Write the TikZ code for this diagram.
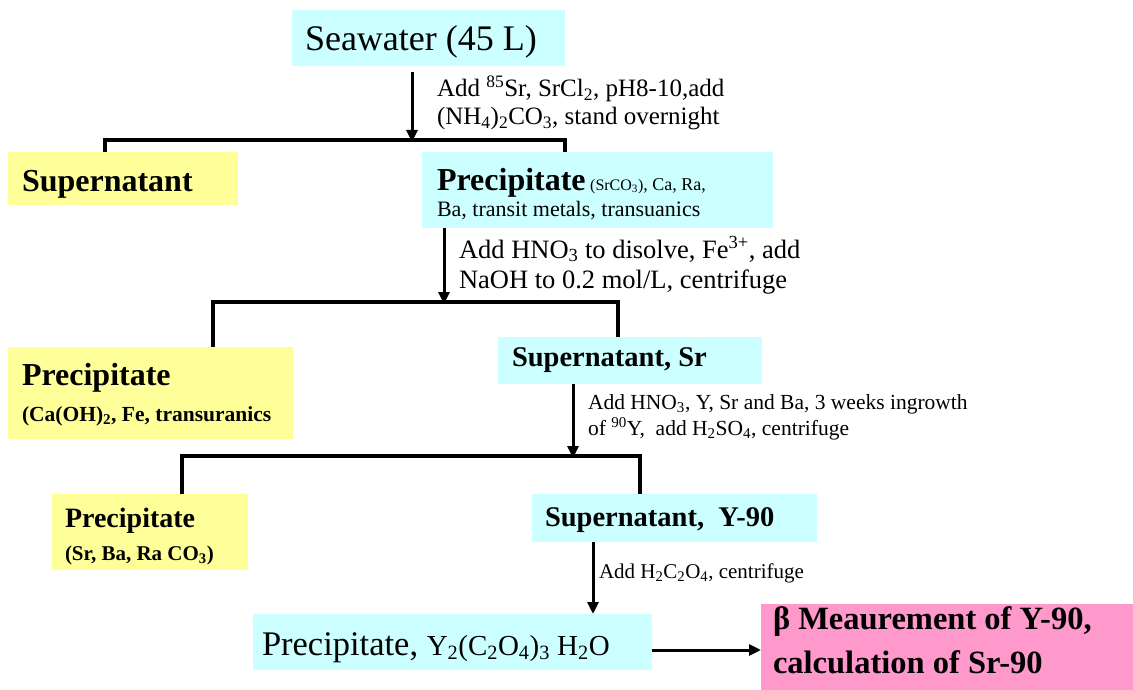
\documentclass[tikz,border=0pt]{standalone}
\usepackage{fontspec}
\setmainfont{Liberation Serif}
\usetikzlibrary{arrows.meta}

\definecolor{boxcyan}{HTML}{CCFFFF}
\definecolor{boxyellow}{HTML}{FFFF99}
\definecolor{boxpink}{HTML}{FF99CC}

\newcommand{\chsub}[1]{\textsubscript{#1}}
\newcommand{\chsup}[1]{\textsuperscript{#1}}
\newcommand{\fsz}[1]{\fontsize{#1}{1.15\dimexpr #1pt\relax}\selectfont}

\begin{document}
\begin{tikzpicture}[x=1pt,y=-1pt,
  box/.style={draw=none, anchor=north west, inner sep=0pt, outer sep=0pt},
  txt/.style={anchor=base west, inner sep=0pt, outer sep=0pt},
  flow/.style={line width=3pt, -{Triangle[length=12pt,width=11pt]}},
  fork/.style={line width=4pt, line join=miter}
]
\useasboundingbox (0,0) rectangle (1133,690);

% ---------- boxes ----------
\node[box, fill=boxcyan,   minimum width=273pt, minimum height=56pt] (sea)   at (292,10)  {};
\node[box, fill=boxyellow, minimum width=230pt, minimum height=53pt] (sup1)  at (8,152)   {};
\node[box, fill=boxcyan,   minimum width=351pt, minimum height=76pt] (prec1) at (422,152) {};
\node[box, fill=boxyellow, minimum width=285pt, minimum height=92pt] (prec2) at (8,347)   {};
\node[box, fill=boxcyan,   minimum width=264pt, minimum height=47pt] (sup2)  at (498,337) {};
\node[box, fill=boxyellow, minimum width=196pt, minimum height=76pt] (prec3) at (52,494)  {};
\node[box, fill=boxcyan,   minimum width=285pt, minimum height=48pt] (sup3)  at (532,494) {};
\node[box, fill=boxcyan,   minimum width=399pt, minimum height=56pt] (prec4) at (253,614) {};
\node[box, fill=boxpink,   minimum width=372pt, minimum height=86pt] (meas)  at (761,604) {};

% ---------- box texts ----------
\node[txt] (seaT) at (305,51) {\fsz{36}Seawater (45 L)};
\node[txt] (sup1T) at (22,191) {\fsz{32}\bfseries Supernatant};
\node[txt] (prec1Ta) at (437,190) {\fsz{32}\textbf{Precipitate}\fsz{18} {\fsz{16}(SrCO\chsub{3})}, Ca, Ra,};
\node[txt] (prec1Tb) at (437,216) {\fsz{22}Ba, transit metals, transuanics};
\node[txt] (prec2Ta) at (22,385) {\fsz{32}\bfseries Precipitate};
\node[txt] (prec2Tb) at (22,421) {\fsz{21.5}\bfseries (Ca(OH)\chsub{2}, Fe, transuranics};
\node[txt] (sup2T) at (512,366) {\fsz{28.5}\bfseries Supernatant, Sr};
\node[txt] (prec3Ta) at (65,527) {\fsz{28}\bfseries Precipitate};
\node[txt] (prec3Tb) at (65,560) {\fsz{21}\bfseries (Sr, Ba, Ra CO\chsub{3})};
\node[txt] (sup3T) at (545,526) {\fsz{28.5}\bfseries Supernatant,~ Y-90};
\node[txt] (prec4T) at (262,655) {\fsz{34.5}Precipitate, {\fsz{29}Y\chsub{2}(C\chsub{2}O\chsub{4})\chsub{3} H\chsub{2}O}};
\node[txt] (measTa) at (773,629) {\fsz{32.5}\bfseries β Meaurement of Y-90,};
\node[txt] (measTb) at (773,673) {\fsz{32.5}\bfseries calculation of Sr-90};

% ---------- step labels ----------
\node[txt] (l1a) at (437,97)  {\fsz{25}Add \chsup{85}Sr, SrCl\chsub{2}, pH8-10,add};
\node[txt] (l1b) at (437,125) {\fsz{25}(NH\chsub{4})\chsub{2}CO\chsub{3}, stand overnight};
\node[txt] (l2a) at (459,258) {\fsz{26.5}Add HNO\chsub{3} to disolve, Fe\chsup{3+}, add};
\node[txt] (l2b) at (459,288) {\fsz{26.5}NaOH to 0.2 mol/L, centrifuge};
\node[txt] (l3a) at (588,409) {\fsz{21.5}Add HNO\chsub{3}, Y, Sr and Ba, 3 weeks ingrowth};
\node[txt] (l3b) at (588,435) {\fsz{21.5}of \chsup{90}Y,~ add H\chsub{2}SO\chsub{4}, centrifuge};
\node[txt] (l4)  at (599,578) {\fsz{21}Add H\chsub{2}C\chsub{2}O\chsub{4}, centrifuge};

% ---------- fork points ----------
\coordinate (f1)  at (412,140);
\coordinate (f1l) at (105,140);
\coordinate (f1r) at (565,140);
\coordinate (f2)  at (444,302);
\coordinate (f2l) at (213,302);
\coordinate (f2r) at (618,302);
\coordinate (f3)  at (573,456);
\coordinate (f3l) at (182,456);
\coordinate (f3r) at (640,456);
\coordinate (s1)  at (412,72);

% ---------- forks ----------
\draw[fork] (sup1.north -| f1l) -- (f1l) -- (f1r) -- (prec1.north -| f1r);
\draw[fork] (prec2.north -| f2l) -- (f2l) -- (f2r) -- (sup2.north -| f2r);
\draw[fork] (prec3.north -| f3l) -- (f3l) -- (f3r) -- (sup3.north -| f3r);

% ---------- arrows ----------
\draw[flow] (s1) -- ([yshift=-2pt]f1);
\draw[flow] (prec1.south -| f2) -- ([yshift=-2pt]f2);
\draw[flow] (sup2.south -| f3) -- ([yshift=-2pt]f3);
\draw[flow] (sup3.south -| 593,0) -- (prec4.north -| 593,0);
\draw[flow] (prec4.east |- 0,650) -- (meas.west |- 0,650);
\end{tikzpicture}
\end{document}
